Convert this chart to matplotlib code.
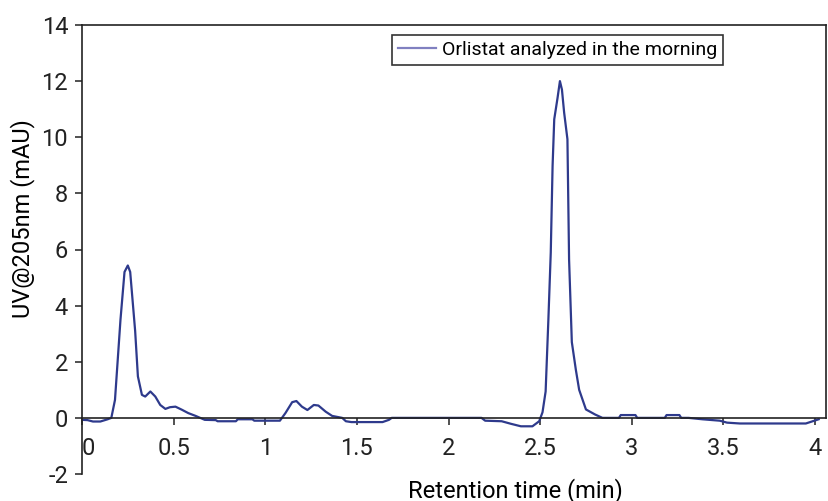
import numpy as np
import matplotlib.pyplot as plt

# retention time (min) and UV response (mAU)
time = [0.00, 0.03, 0.06, 0.10, 0.14, 0.16, 0.18, 0.21, 0.232, 0.25, 0.263,
        0.29, 0.305, 0.327, 0.345, 0.373, 0.40, 0.427, 0.455, 0.48, 0.51,
        0.545, 0.58, 0.62, 0.645, 0.67, 0.73, 0.74, 0.84, 0.85, 0.93, 0.94,
        1.08, 1.11, 1.147, 1.17, 1.20, 1.23, 1.265, 1.29, 1.33, 1.365, 1.42,
        1.44, 1.47, 1.64, 1.675, 1.69, 1.83, 1.93, 2.18, 2.20, 2.29, 2.34,
        2.395, 2.458, 2.495, 2.513, 2.53, 2.545, 2.558, 2.568, 2.577, 2.595,
        2.608, 2.619, 2.631, 2.649, 2.658, 2.673, 2.695, 2.713, 2.75, 2.80,
        2.84, 2.93, 2.94, 3.02, 3.03, 3.18, 3.19, 3.26, 3.27, 3.31, 3.385,
        3.48, 3.52, 3.59, 3.95, 4.02]
signal = [-0.07, -0.08, -0.13, -0.13, -0.05, 0.0, 0.64, 3.5, 5.2, 5.43, 5.2,
          3.1, 1.48, 0.82, 0.76, 0.94, 0.76, 0.46, 0.32, 0.38, 0.40,
          0.29, 0.17, 0.07, 0.0, -0.07, -0.08, -0.12, -0.12, -0.05, -0.05, -0.1,
          -0.1, 0.17, 0.56, 0.6, 0.4, 0.28, 0.46, 0.44, 0.22, 0.07, 0.0,
          -0.12, -0.15, -0.15, -0.07, 0.0, 0.0, 0.0, 0.0, -0.1, -0.12, -0.21,
          -0.3, -0.3, -0.12, 0.2, 0.94, 3.5, 5.89, 8.98, 10.64, 11.4,
          12.0, 11.7, 10.88, 9.93, 5.64, 2.7, 1.71, 1.0, 0.3, 0.12,
          0.0, 0.0, 0.1, 0.1, 0.0, 0.0, 0.1, 0.1, 0.0, 0.0, -0.05,
          -0.1, -0.17, -0.2, -0.2, -0.05]

xticks = [0, 0.5, 1, 1.5, 2, 2.5, 3, 3.5, 4]
xtick_labels = ['0', '0.5', '1', '1.5', '2', '2.5', '3', '3.5', '4']
yticks = [-2, 0, 2, 4, 6, 8, 10, 12, 14]

plt.rcParams['font.family'] = ['Roboto', 'DejaVu Sans']
plt.rcParams['axes.unicode_minus'] = False

fig = plt.figure(figsize=(8.29, 5.01), dpi=100)
ax = fig.add_axes([82 / 829, 1 - 474 / 501, 744 / 829, 449 / 501])

ax.plot(time, signal, color='#2e3a8c', lw=1.6, label='Orlistat analyzed in the morning')

ax.set_xlim(0, 4.06)
ax.set_ylim(-2, 14)

# x axis sits on the zero line, frame only covers the positive part
ax.spines['bottom'].set_position(('data', 0))
ax.spines['right'].set_bounds(0, 14)
for s in ax.spines.values():
    s.set_linewidth(1.2)
    s.set_color('#222222')

ax.set_xticks(xticks)
ax.set_xticklabels(xtick_labels)
ax.set_yticks(yticks)
ax.tick_params(axis='both', direction='out', length=5, width=1.1, labelsize=17, colors='#222222')
ax.tick_params(axis='x', pad=9)
ax.tick_params(axis='y', pad=5)
# first x label sits just right of the left axis
ax.get_xticklabels()[0].set_horizontalalignment('left')

ax.set_ylabel('UV@205nm (mAU)', fontsize=17)
ax.yaxis.set_label_coords(-0.063, 0.568)
ax.set_xlabel('Retention time (min)', fontsize=17)
ax.xaxis.set_label_coords(0.582, -0.008)

leg = ax.legend(loc='upper right', bbox_to_anchor=(0.862, 0.978), fontsize=14,
                frameon=True, fancybox=False, borderpad=0.3, handlelength=2.0,
                handletextpad=0.3, borderaxespad=0)
leg.get_frame().set_edgecolor('black')
leg.get_frame().set_linewidth(1.2)
for h in leg.get_lines():
    h.set_color('#8080c0')

fig.savefig('out.png', dpi=100)
